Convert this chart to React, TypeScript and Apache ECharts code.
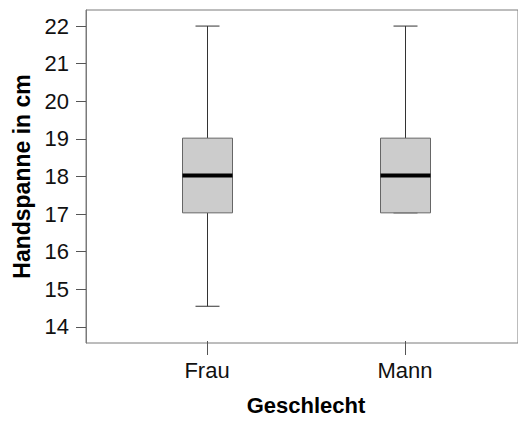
import React, { useEffect, useRef } from "react";
import * as echarts from "echarts";

const categories = ["Frau", "Mann"];
const minVals = [14.5, 17];
const q1Vals = [17, 17];
const medianVals = [18, 18];
const q3Vals = [19, 19];
const maxVals = [22, 22];
const yTicks = [14, 15, 16, 17, 18, 19, 20, 21, 22];
const yTitle = "Handspanne in cm";
const xTitle = "Geschlecht";

const FONT = "'Liberation Sans', Arial, sans-serif";

export default function App() {
  const ref = useRef<HTMLDivElement>(null);
  useEffect(() => {
    document.body.style.margin = "0";
    const chart = echarts.init(ref.current!, null, { renderer: "svg" });
    const data = categories.map((c, i) => [i, minVals[i], q1Vals[i], medianVals[i], q3Vals[i], maxVals[i]]);
    const yMin = 13.57;
    const yMax = 22.43;
    chart.setOption({
      animation: false,
      backgroundColor: "#ffffff",
      textStyle: { fontFamily: FONT },
      grid: [
        { left: 86, right: -8, top: 10, bottom: 78, show: true, borderColor: "#7a7a7a", borderWidth: 1, backgroundColor: "transparent" },
        { left: 108, right: 14, top: 10, bottom: 78 },
      ],
      xAxis: [
        { gridIndex: 0, type: "value", show: false, min: 0, max: 1 },
        {
          gridIndex: 1,
          type: "category",
          data: categories,
          boundaryGap: true,
          axisLine: { show: false },
          axisTick: { show: true, alignWithLabel: true, length: 14, lineStyle: { color: "#555", width: 1 } },
          axisLabel: { fontSize: 22, color: "#111", margin: 18, fontFamily: FONT },
          name: xTitle,
          nameLocation: "middle",
          nameGap: 53,
          nameTextStyle: { fontSize: 22, fontWeight: "bold", color: "#000", fontFamily: FONT },
        },
      ],
      yAxis: [
        {
          gridIndex: 0,
          type: "value",
          min: yMin,
          max: yMax,
          axisLine: { show: true, lineStyle: { color: "#7a7a7a", width: 1 } },
          axisTick: { show: true, length: 10, customValues: yTicks, lineStyle: { color: "#555", width: 1 } },
          axisLabel: { fontSize: 22, color: "#111", margin: 17, customValues: yTicks, fontFamily: FONT, formatter: (v: number) => String(Math.round(v)) },
          splitLine: { show: false },
          name: yTitle,
          nameLocation: "middle",
          nameGap: 50,
          nameTextStyle: { fontSize: 23, fontWeight: "bold", color: "#000", fontFamily: FONT },
        },
        { gridIndex: 1, type: "value", min: yMin, max: yMax, show: false },
      ],
      series: [
        {
          type: "custom",
          xAxisIndex: 1,
          yAxisIndex: 1,
          data,
          renderItem: (params: any, api: any) => {
            const x = api.value(0);
            const pMin = api.coord([x, api.value(1)]);
            const pQ1 = api.coord([x, api.value(2)]);
            const pMed = api.coord([x, api.value(3)]);
            const pQ3 = api.coord([x, api.value(4)]);
            const pMax = api.coord([x, api.value(5)]);
            const cx = Math.round(pMed[0]) + 0.5;
            const boxW = 50;
            const capW = 24;
            const wStyle = { stroke: "#333", lineWidth: 1 };
            return {
              type: "group",
              children: [
                { type: "line", shape: { x1: cx, y1: pMax[1], x2: cx, y2: pQ3[1] }, style: wStyle },
                { type: "line", shape: { x1: cx, y1: pQ1[1], x2: cx, y2: pMin[1] }, style: wStyle },
                { type: "line", shape: { x1: cx - capW / 2, y1: pMax[1], x2: cx + capW / 2, y2: pMax[1] }, style: wStyle },
                { type: "line", shape: { x1: cx - capW / 2, y1: pMin[1], x2: cx + capW / 2, y2: pMin[1] }, style: wStyle },
                {
                  type: "rect",
                  shape: { x: cx - boxW / 2, y: pQ3[1], width: boxW, height: pQ1[1] - pQ3[1] },
                  style: { fill: "#cccccc", stroke: "#666", lineWidth: 1 },
                },
                { type: "line", shape: { x1: cx - boxW / 2, y1: pMed[1], x2: cx + boxW / 2, y2: pMed[1] }, style: { stroke: "#000", lineWidth: 4 } },
              ],
            };
          },
        },
      ],
    });
    return () => chart.dispose();
  }, []);
  return <div ref={ref} style={{ width: 518, height: 421 }} />;
}
